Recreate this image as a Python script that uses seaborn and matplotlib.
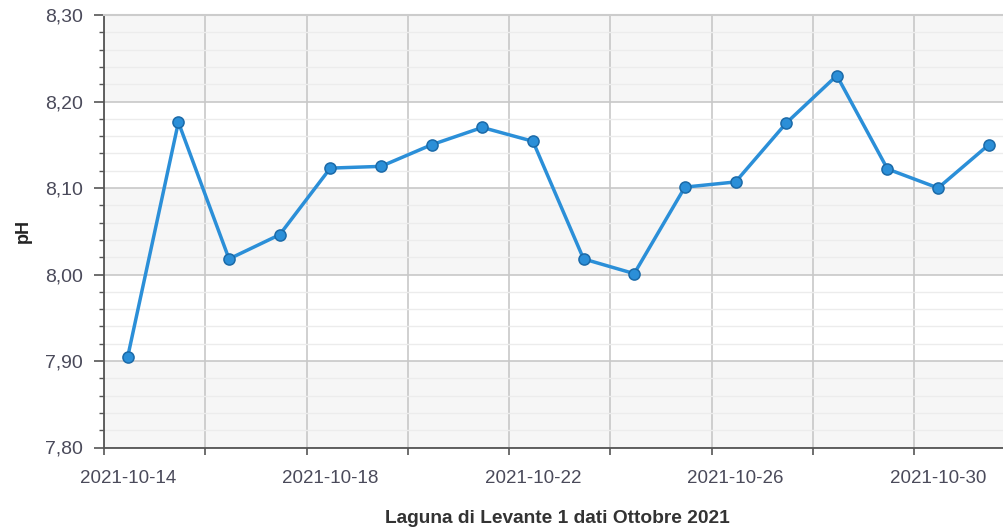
import matplotlib
matplotlib.use("Agg")
import matplotlib.pyplot as plt
import matplotlib.dates as mdates
import matplotlib.ticker as mticker
import seaborn as sns
import pandas as pd

# pH readings, one per day (October 2021)
dates = ["2021-10-14", "2021-10-15", "2021-10-16", "2021-10-17", "2021-10-18",
         "2021-10-19", "2021-10-20", "2021-10-21", "2021-10-22", "2021-10-23",
         "2021-10-24", "2021-10-25", "2021-10-26", "2021-10-27", "2021-10-28",
         "2021-10-29", "2021-10-30", "2021-10-31"]
ph = [7.905, 8.176, 8.018, 8.046, 8.123, 8.125, 8.150, 8.170, 8.154, 8.018,
      8.001, 8.101, 8.107, 8.175, 8.230, 8.122, 8.100, 8.150]
label_dates = ["2021-10-14", "2021-10-18", "2021-10-22", "2021-10-26", "2021-10-30"]
y_ticks = [7.80, 7.90, 8.00, 8.10, 8.20, 8.30]

sample_time = pd.Timedelta(hours=11, minutes=15)
df = pd.DataFrame({"data": pd.to_datetime(dates) + sample_time, "pH": ph})

sns.set_style("white")
plt.rcParams['font.family'] = ['Liberation Sans', 'DejaVu Sans']

fig = plt.figure(figsize=(10.04, 5.28), dpi=100)
ax = fig.add_axes([104 / 1004, 80.5 / 528, 899 / 1004, 432.5 / 528])

# alternating bands
for i, (lo, hi) in enumerate(zip(y_ticks[:-1], y_ticks[1:])):
    ax.axhspan(lo, hi, color='#f6f6f6' if i % 2 == 0 else 'white', zorder=0, lw=0)

sns.lineplot(data=df, x="data", y="pH", ax=ax, color='#2b8fd8', lw=2.5,
             marker='o', markersize=8, markeredgecolor='#1b6aa8',
             markeredgewidth=1.1, zorder=5)

ax.set_ylim(7.80, 8.30)
ax.set_xlim(pd.Timestamp("2021-10-14"), pd.Timestamp("2021-10-31 18:00"))

ax.yaxis.set_major_locator(mticker.FixedLocator(y_ticks))
ax.yaxis.set_minor_locator(mticker.MultipleLocator(0.02))
ax.yaxis.set_major_formatter(mticker.FuncFormatter(lambda v, p: f"{v:.2f}".replace('.', ',')))

ax.xaxis.set_major_locator(mdates.DayLocator(interval=2, bymonthday=range(14, 31, 2)))
ax.xaxis.set_major_formatter(mticker.NullFormatter())
lab_pos = pd.to_datetime(label_dates) + sample_time
ax.set_xticks(lab_pos, minor=True)
ax.set_xticklabels(label_dates, minor=True)

ax.grid(which='major', axis='both', color='#c8c8c8', lw=1.2)
ax.grid(which='minor', axis='y', color='#ececec', lw=1)
ax.set_axisbelow(True)

ax.tick_params(axis='y', which='major', length=7, width=1.2, color='#555555',
               labelsize=14, labelcolor='#4a4a5a', pad=8, left=True)
ax.tick_params(axis='y', which='minor', length=3.5, width=1, color='#555555', left=True)
ax.tick_params(axis='x', which='major', length=5, width=1.2, color='#555555', bottom=True)
ax.tick_params(axis='x', which='minor', length=0, labelsize=13.5,
               labelcolor='#4a4a5a', pad=16)

for side in ['left', 'bottom']:
    ax.spines[side].set_color('#555555')
    ax.spines[side].set_linewidth(1.3)
ax.spines['top'].set_color('#cccccc')
ax.spines['top'].set_linewidth(1.5)
ax.spines['right'].set_visible(False)

ax.set_ylabel("pH", fontsize=13, fontweight='bold', color='#222222', labelpad=10)
ax.set_xlabel("Laguna di Levante 1 dati Ottobre 2021", fontsize=13.8,
              fontweight='bold', color='#333333', labelpad=15)
ax.xaxis.set_label_coords(0.504, -0.145)

fig.savefig("out.png", dpi=100)
